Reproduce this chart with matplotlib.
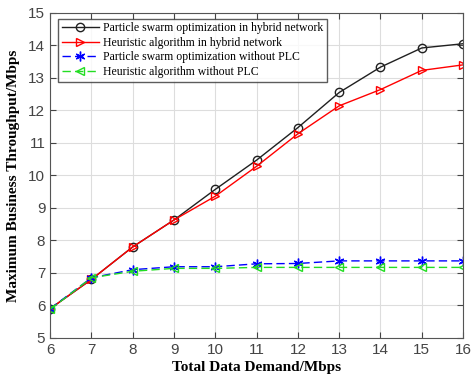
import numpy as np
import matplotlib
matplotlib.use('Agg')
import matplotlib.pyplot as plt

demand = [6, 7, 8, 9, 10, 11, 12, 13, 14, 15, 16]
pso_hybrid = [5.9, 6.8, 7.8, 8.63, 9.57, 10.47, 11.47, 12.55, 13.33, 13.92, 14.05]
heur_hybrid = [5.9, 6.8, 7.8, 8.63, 9.36, 10.28, 11.28, 12.14, 12.64, 13.23, 13.4]
pso_noplc = [5.9, 6.85, 7.1, 7.19, 7.19, 7.28, 7.29, 7.37, 7.37, 7.37, 7.37]
heur_noplc = [5.88, 6.85, 7.05, 7.14, 7.14, 7.17, 7.17, 7.17, 7.17, 7.17, 7.17]

fig = plt.figure(figsize=(4.73, 3.78), dpi=100)
ax = fig.add_axes([0.106, 0.106, 0.873, 0.86])

ax.plot(demand, pso_hybrid, '-o', color='#202020', lw=1, ms=6, mfc='none', mew=1,
        label='Particle swarm optimization in hybrid network')
ax.plot(demand, heur_hybrid, '->', color='red', lw=1, ms=6, mfc='none', mew=1,
        label='Heuristic algorithm in hybrid network')
ax.plot(demand, pso_noplc, '--', marker=(6, 2, 0), color='blue', lw=1, ms=7, mew=1, dashes=(6, 3),
        label='Particle swarm optimization without PLC')
ax.plot(demand, heur_noplc, '--<', color='#22dd22', lw=1, ms=6, mfc='none', mew=1, dashes=(6, 3),
        label='Heuristic algorithm without PLC')

ax.set_xlim(6, 16)
ax.set_ylim(5, 15)
ax.set_xticks(range(6, 17))
ax.set_yticks(range(5, 16))
ax.grid(color='#dddddd', lw=0.8)
ax.tick_params(direction='in', labelsize=11, length=4, top=True, right=True,
               labeltop=False, labelright=False, colors='#444444')
for lbl in ax.get_xticklabels() + ax.get_yticklabels():
    lbl.set_family('Liberation Sans')
for s in ax.spines.values():
    s.set_color('#555555')
    s.set_linewidth(0.8)

ax.set_xlabel('Total Data Demand/Mbps', family='Liberation Serif', fontweight='bold', fontsize=11, labelpad=3)
ax.set_ylabel('Maximum Business Throughput/Mbps', family='Liberation Serif', fontweight='bold', fontsize=11, labelpad=6)

leg = ax.legend(loc='upper left', prop={'family': 'Liberation Serif', 'size': 8.5},
                fancybox=False, edgecolor='#333333', handlelength=3.1,
                borderpad=0.3, labelspacing=0.22, handletextpad=0.4,
                bbox_to_anchor=(0.02, 0.982), borderaxespad=0)
leg.get_frame().set_linewidth(1)

plt.savefig('out.png', dpi=100)
